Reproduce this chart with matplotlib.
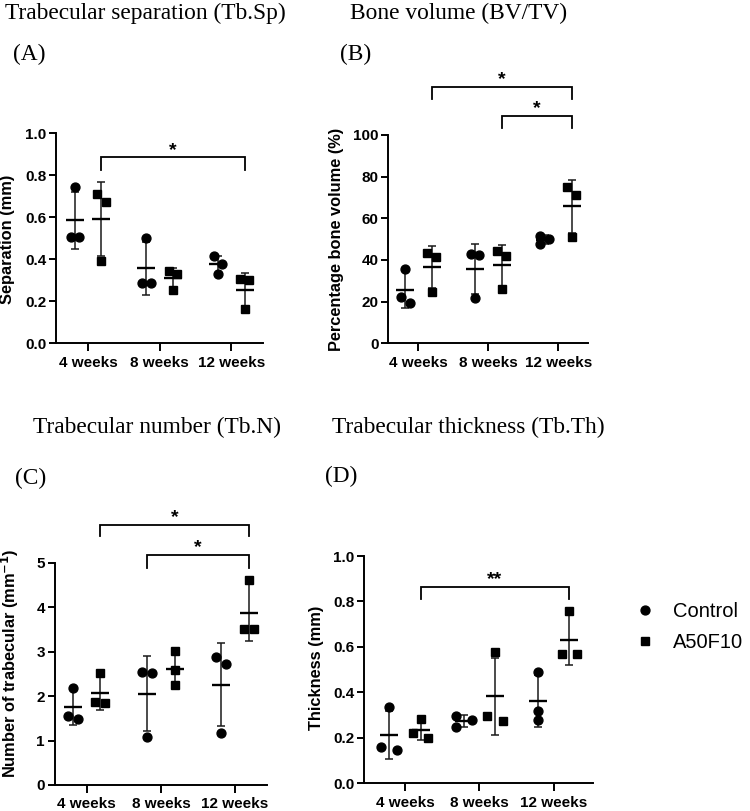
import numpy as np
import matplotlib.pyplot as plt

plt.rcParams['font.family'] = ['Liberation Sans', 'DejaVu Sans']

weeks = ['4 weeks', '8 weeks', '12 weeks']
groups = ['Control', 'A50F10']

# Trabecular separation (mm), 3 animals per week
sep_control = [[0.743, 0.506, 0.506], [0.503, 0.285, 0.285], [0.416, 0.379, 0.332]]
sep_a50f10 = [[0.711, 0.675, 0.392], [0.343, 0.332, 0.253], [0.304, 0.300, 0.163]]

# Bone volume BV/TV (%)
bv_control = [[35.7, 22.4, 19.2], [42.7, 42.4, 21.6], [51.7, 49.9, 47.5]]
bv_a50f10 = [[43.2, 41.6, 24.8], [44.3, 41.9, 25.9], [74.9, 71.2, 51.2]]

# Trabecular number (1/mm)
num_control = [[2.19, 1.56, 1.48], [2.55, 2.53, 1.09], [2.87, 2.72, 1.18]]
num_a50f10 = [[2.53, 1.86, 1.85], [3.01, 2.59, 2.26], [4.61, 3.51, 3.51]]

# Trabecular thickness (mm)
th_control = [[0.334, 0.158, 0.147], [0.297, 0.278, 0.246], [0.491, 0.316, 0.278]]
th_a50f10 = [[0.283, 0.223, 0.198], [0.577, 0.296, 0.275], [0.759, 0.567, 0.567]]

# significance: (week, group) -> (week, group), label
sig_sep = [((0, 1), (2, 1), '*')]
sig_bv = [((0, 1), (2, 1), '*'), ((1, 1), (2, 1), '*')]
sig_num = [((0, 1), (2, 1), '*'), ((1, 0), (2, 1), '*')]
sig_th = [((0, 1), (2, 1), '**')]

W, H = 750, 811
fig = plt.figure(figsize=(W / 100, H / 100), dpi=100)

markers = ['o', 's']
msize = [6.4, 6.0]


def add_ax(l, t, r, b):
    return fig.add_axes([l / W, 1 - b / H, (r - l) / W, (b - t) / H])


def spread(vals, px_per_unit, half):
    # push overlapping points sideways, zigzag like a small swarm
    vals = np.asarray(vals)
    order = np.argsort(-vals, kind='stable')
    offs = np.zeros(len(vals))
    clusters = [[order[0]]]
    for i in order[1:]:
        if abs(vals[clusters[-1][-1]] - vals[i]) * px_per_unit < 8.2:
            clusters[-1].append(i)
        else:
            clusters.append([i])
    for c in clusters:
        if len(c) > 1:
            for k, i in enumerate(c):
                offs[i] = -half if k % 2 == 0 else half
    return offs


def panel(box, xlim, ymax, ystep, yfmt, series, sig, brackets, offset, half):
    ax = add_ax(*box)
    ax.set_xlim(*xlim)
    ax.set_ylim(0, ymax)
    px_per_unit = ax.bbox.height / ymax
    handles = []
    for g, data in enumerate(series):
        sgn = -1 if g == 0 else 1
        for w, vals in enumerate(data):
            xc = w + sgn * offset
            xs = xc + spread(vals, px_per_unit, half)
            h, = ax.plot(xs, vals, linestyle='none', marker=markers[g], ms=msize[g],
                         color='black', zorder=3)
            m = np.mean(vals)
            sd = np.std(vals, ddof=1)
            ax.errorbar(xc, m, yerr=sd, fmt='none', ecolor='#1a1a1a', elinewidth=1.1,
                        capsize=3.2, capthick=1.1, zorder=2)
            ax.plot([xc], [m], marker='_', ms=13, mew=1.7, color='black', zorder=4)
        handles.append(h)

    for (a, b, lab), (ytop, ybot) in zip(sig, brackets):
        xa = a[0] + (-1 if a[1] == 0 else 1) * offset
        xb = b[0] + (-1 if b[1] == 0 else 1) * offset
        ax.plot([xa, xa, xb, xb], [ybot, ytop, ytop, ybot], color='black', lw=1.3,
                clip_on=False, solid_joinstyle='miter')
        ax.text((xa + xb) / 2, ytop - 0.006 * ymax, lab, ha='center', va='bottom',
                fontsize=14, fontweight='bold', clip_on=False)

    ax.set_xticks(range(len(weeks)))
    ax.set_xticklabels(weeks)
    ax.set_yticks(np.arange(0, ymax + ystep / 2, ystep))
    ax.yaxis.set_major_formatter(plt.FormatStrFormatter(yfmt))
    for s in ['top', 'right']:
        ax.spines[s].set_visible(False)
    for s in ['left', 'bottom']:
        ax.spines[s].set_linewidth(1.4)
    ax.tick_params(axis='x', length=6, width=1.4, pad=3, labelsize=11)
    ax.tick_params(axis='y', length=5, width=1.4, pad=2, labelsize=11)
    for t in ax.get_xticklabels() + ax.get_yticklabels():
        t.set_fontweight('bold')
    return ax, handles


panel((56, 133.3, 262.7, 343.3), (-0.45, 2.44), 1.0, 0.2, '%.1f',
      [sep_control, sep_a50f10], sig_sep, [(0.885, 0.825)], 0.186, 0.06)
panel((388.3, 135, 588.3, 343.3), (-0.43, 2.43), 100, 20, '%d',
      [bv_control, bv_a50f10], sig_bv, [(122.9, 117.3), (109.1, 103.4)], 0.19, 0.064)
panel((54.5, 562.7, 267, 785), (-0.434, 2.43), 5, 1, '%d',
      [num_control, num_a50f10], sig_num, [(5.85, 5.59), (5.17, 4.88)], 0.185, 0.067)
axd, handles = panel((364, 556, 593.3, 783.3), (-0.55, 2.53), 1.0, 0.2, '%.1f',
                     [th_control, th_a50f10], sig_th, [(0.864, 0.810)], 0.21, 0.105)

# titles and panel letters (Times-like serif)
serif = dict(family='Liberation Serif', fontsize=16.8)
fig.text(5 / W, 1 - 13 / H, 'Trabecular separation (Tb.Sp)', ha='left', va='center', **serif)
fig.text(350 / W, 1 - 13 / H, 'Bone volume (BV/TV)', ha='left', va='center', **serif)
fig.text(33 / W, 1 - 427 / H, 'Trabecular number (Tb.N)', ha='left', va='center', **serif)
fig.text(332 / W, 1 - 427 / H, 'Trabecular thickness (Tb.Th)', ha='left', va='center', **serif)
fig.text(13 / W, 1 - 54 / H, '(A)', ha='left', va='center', **serif)
fig.text(340 / W, 1 - 54 / H, '(B)', ha='left', va='center', **serif)
fig.text(15 / W, 1 - 478 / H, '(C)', ha='left', va='center', **serif)
fig.text(325 / W, 1 - 476 / H, '(D)', ha='left', va='center', **serif)

# y labels
ylab = dict(rotation=90, ha='center', va='center', fontsize=11.8, fontweight='bold')
fig.text(8 / W, 1 - 239 / H, 'Separation (mm)', **ylab)
fig.text(336 / W, 1 - 239 / H, 'Percentage bone volume (%)', **ylab)
fig.text(10 / W, 1 - 663 / H, r'Number of trabecular (mm$^{\mathbf{-1}}$)', **ylab)
fig.text(317 / W, 1 - 668 / H, 'Thickness (mm)', **ylab)

fig.legend(handles, groups, loc='center left', bbox_to_anchor=(635 / W, 1 - 627 / H),
           frameon=False, fontsize=14.5, handlelength=1.0, handletextpad=0.9,
           labelspacing=0.6, borderpad=0, borderaxespad=0)

fig.savefig('out.png', dpi=100)
